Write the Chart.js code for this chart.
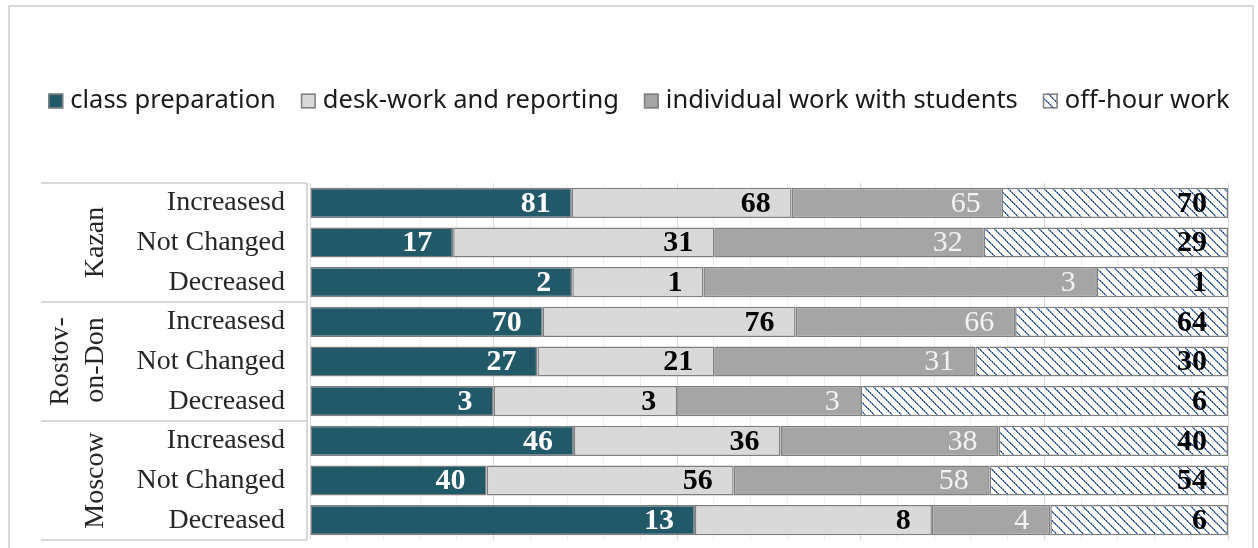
<!DOCTYPE html>
<html>
<head>
<meta charset="utf-8">
<script src="https://cdn.jsdelivr.net/npm/chart.js@4.4.1/dist/chart.umd.min.js"></script>
<style>
  html, body { margin: 0; padding: 0; background: #ffffff; overflow: hidden; }
  #wrap { position: relative; width: 1258px; height: 548px; }
  #frame { position: absolute; left: 8px; top: 5px; width: 1246px; height: 560px; border: 2px solid #d9d9d9; box-sizing: border-box; }
  canvas { position: absolute; left: 0; top: 0; }
</style>
</head>
<body>
<div id="wrap">
  <div id="frame"></div>
  <canvas id="c" width="1258" height="548"></canvas>
</div>
<script>
// ---- data ----
const categories = ['Increasesd', 'Not Changed', 'Decreased',
                    'Increasesd', 'Not Changed', 'Decreased',
                    'Increasesd', 'Not Changed', 'Decreased'];
const groupNames = [['Kazan'], ['Rostov-', 'on-Don'], ['Moscow']];
const groupSizes = [3, 3, 3];
const seriesNames = ['class preparation', 'desk-work and reporting', 'individual work with students', 'off-hour work'];
const classPreparation = [81, 17, 2, 70, 27, 3, 46, 40, 13];
const deskWork         = [68, 31, 1, 76, 21, 3, 36, 56, 8];
const individualWork   = [65, 32, 3, 66, 31, 3, 38, 58, 4];
const offHourWork      = [70, 29, 1, 64, 30, 6, 40, 54, 6];

// ---- styles ----
function hatchPattern() {
  const s = 9;
  const cv = document.createElement('canvas');
  cv.width = s; cv.height = s;
  const g = cv.getContext('2d');
  g.fillStyle = '#ffffff';
  g.fillRect(0, 0, s, s);
  for (let i = 0; i < s; i++) {
    g.fillStyle = (i % 2 === 0) ? '#2f5597' : '#5b7fbf';
    g.fillRect(i, i, 1, 1);
    g.fillStyle = (i % 2 === 0) ? '#8aa3d4' : '#2f5597';
    g.fillRect((i + 1) % s, i, 1, 1);
  }
  return g.createPattern(cv, 'repeat');
}
const fills = ['#215968', '#d9d9d9', '#a5a5a5', hatchPattern()];
const labelColors = ['#ffffff', '#000000', '#f2f2f2', '#000000'];
const labelWeights = ['bold', 'bold', 'normal', 'bold'];

const raw = [classPreparation, deskWork, individualWork, offHourWork];
const totals = categories.map((_, i) => raw.reduce((s, arr) => s + arr[i], 0));

const datasets = raw.map((arr, k) => ({
  label: seriesNames[k],
  data: arr.map((v, i) => v / totals[i] * 100),
  rawValues: arr,
  backgroundColor: fills[k],
  borderColor: '#7f7f7f',
  borderWidth: 1.5,
  borderSkipped: false,
  categoryPercentage: 1,
  barPercentage: 0.76
}));

// ---- plugins ----
const valueLabels = {
  id: 'valueLabels',
  afterDatasetsDraw(chart) {
    const ctx = chart.ctx;
    ctx.save();
    ctx.textAlign = 'right';
    ctx.textBaseline = 'middle';
    chart.data.datasets.forEach((ds, k) => {
      const meta = chart.getDatasetMeta(k);
      ctx.fillStyle = labelColors[k];
      ctx.font = labelWeights[k] + ' 30px "Liberation Serif", "Times New Roman", serif';
      meta.data.forEach((bar, i) => {
        ctx.fillText(String(ds.rawValues[i]), bar.x - 21, bar.y + 1);
      });
    });
    ctx.restore();
  }
};

const groupAxis = {
  id: 'groupAxis',
  afterDraw(chart) {
    const ctx = chart.ctx;
    const ys = chart.scales.y;
    const area = chart.chartArea;
    const band = (ys.bottom - ys.top) / categories.length;
    const lineX0 = 41;
    const lineX1 = area.left - 3;
    ctx.save();
    ctx.strokeStyle = '#d9d9d9';
    ctx.lineWidth = 2;
    ctx.beginPath();
    ctx.moveTo(lineX1, ys.top);
    ctx.lineTo(lineX1, ys.bottom);
    ctx.stroke();
    let idx = 0;
    const seps = [ys.getPixelForValue(0) - band / 2];
    groupSizes.forEach((n, g) => {
      const first = idx, last = idx + n - 1;
      idx += n;
      seps.push(ys.getPixelForValue(last) + band / 2);
      const cy = (ys.getPixelForValue(first) + ys.getPixelForValue(last)) / 2;
      const lines = groupNames[g];
      ctx.font = '28px "Liberation Serif", "Times New Roman", serif';
      ctx.fillStyle = '#262626';
      const widths = lines.map(t => ctx.measureText(t).width);
      const W = Math.max(...widths);
      lines.forEach((t, li) => {
        const bx = 103 - (lines.length - 1 - li) * 35;
        ctx.save();
        ctx.translate(bx, cy);
        ctx.rotate(-Math.PI / 2);
        ctx.textBaseline = 'alphabetic';
        if (lines.length > 1) {
          ctx.textAlign = 'right';
          ctx.fillText(t, W / 2, 0);
        } else {
          ctx.textAlign = 'center';
          ctx.fillText(t, 0, 0);
        }
        ctx.restore();
      });
    });
    seps.forEach(y => {
      ctx.beginPath();
      ctx.moveTo(lineX0, y);
      ctx.lineTo(lineX1, y);
      ctx.stroke();
    });
    ctx.restore();
  }
};

const topLegend = {
  id: 'topLegend',
  afterDraw(chart) {
    const ctx = chart.ctx;
    ctx.save();
    ctx.font = '25.5px "Noto Sans", "Open Sans", sans-serif';
    const box = 15, gapText = 7, gapItem = 25;
    const widths = seriesNames.map(n => ctx.measureText(n).width);
    const total = widths.reduce((s, w) => s + box + gapText + w, 0) + gapItem * (seriesNames.length - 1);
    let x = 639 - total / 2;
    const cy = 101;
    chart.data.datasets.forEach((ds, k) => {
      ctx.fillStyle = ds.backgroundColor;
      ctx.fillRect(x, cy - box / 2, box, box);
      ctx.strokeStyle = '#7f7f7f';
      ctx.lineWidth = 1.5;
      ctx.strokeRect(x + 0.75, cy - box / 2 + 0.75, box - 1.5, box - 1.5);
      x += box + gapText;
      ctx.fillStyle = '#1a1a1a';
      ctx.textAlign = 'left';
      ctx.textBaseline = 'middle';
      ctx.fillText(seriesNames[k], x, cy);
      x += widths[k] + gapItem;
    });
    ctx.restore();
  }
};

new Chart(document.getElementById('c'), {
  type: 'bar',
  data: { labels: categories, datasets },
  options: {
    indexAxis: 'y',
    responsive: false,
    animation: false,
    devicePixelRatio: 1,
    layout: { autoPadding: false, padding: { top: 183, bottom: 8, left: 0, right: 30 } },
    plugins: { legend: { display: false }, tooltip: { enabled: false } },
    scales: {
      x: {
        stacked: true, min: 0, max: 100,
        afterFit(scale) { scale.height = 0; scale.paddingLeft = 0; scale.paddingRight = 0; },
        ticks: { display: false, stepSize: 4 },
        border: { display: false },
        grid: {
          drawTicks: false,
          color: c => (c.tick && c.tick.value % 20 === 0) ? '#d9d9d9' : '#eeeeee',
          lineWidth: 1
        }
      },
      y: {
        stacked: true,
        afterFit(scale) { scale.width = 310; scale.paddingTop = 0; scale.paddingBottom = 0; },
        border: { display: false },
        grid: { display: false, drawTicks: false },
        ticks: {
          padding: 25,
          color: '#262626',
          font: { family: '"Liberation Serif", "Times New Roman", serif', size: 28 }
        }
      }
    }
  },
  plugins: [valueLabels, groupAxis, topLegend]
});
</script>
</body>
</html>
